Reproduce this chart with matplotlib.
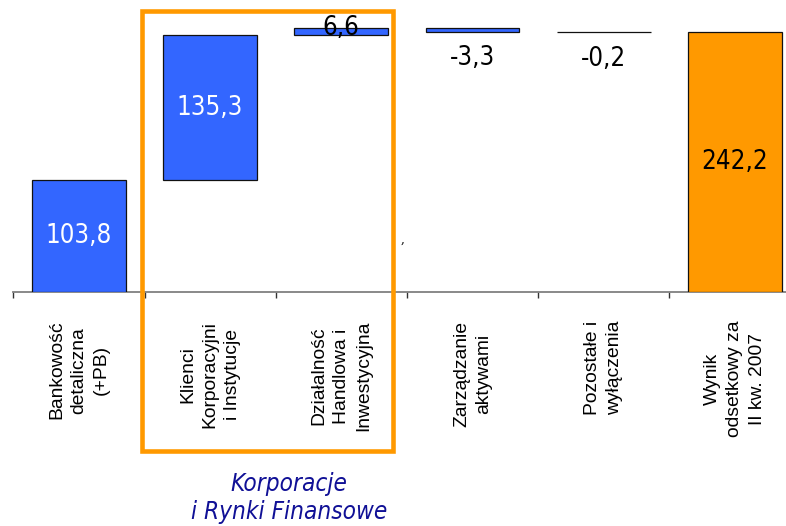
import matplotlib
matplotlib.use("Agg")
import matplotlib.pyplot as plt
from matplotlib.patches import Rectangle
import numpy as np

# Waterfall of net interest income by business segment
categories = [
    "Bankowość\ndetaliczna\n(+PB)",
    "Klienci\nKorporacyjni\ni Instytucje",
    "Działalność\nHandlowa i\nInwestycyjna",
    "Zarządzanie\naktywami",
    "Pozostałe i\nwyłączenia",
    "Wynik\nodsetkowy za\nII kw. 2007",
]
values = [103.8, 135.3, 6.6, -3.3, -0.2, 242.2]
is_total = [False, False, False, False, False, True]
value_labels = ["103,8", "135,3", "6,6", "-3,3", "-0,2", "242,2"]
group_title = "Korporacje\ni Rynki Finansowe"

BLUE = "#3366FF"
ORANGE = "#FF9900"
NAVY = "#101096"

W, H = 786, 526
fig = plt.figure(figsize=(W / 100, H / 100), dpi=100)

# axes geometry in pixels
ax_left, ax_bottom_px, cat_w, px_per_unit = 13.3, 291.7, 131.2, 1.073
ax = fig.add_axes([ax_left / W, (H - ax_bottom_px) / H,
                   cat_w * len(categories) / W, ax_bottom_px / H])
ax.set_xlim(-0.5, len(categories) - 0.5)
ax.set_ylim(0, ax_bottom_px / px_per_unit)

# compute bar bottoms / heights
bottoms, heights = [], []
running = 0.0
for v, tot in zip(values, is_total):
    if tot:
        bottoms.append(0.0)
        heights.append(v)
    else:
        bottoms.append(running)
        heights.append(v)
        running += v

x = np.arange(len(categories))
colors = [ORANGE if t else BLUE for t in is_total]
ax.bar(x, heights, bottom=bottoms, width=0.714, color=colors,
       edgecolor="#111111", linewidth=0.9, zorder=3)

val_font = dict(family="DejaVu Sans", stretch="condensed", size=18.5)

for i, (b, h, lab) in enumerate(zip(bottoms, heights, value_labels)):
    lo, hi = min(b, b + h), max(b, b + h)
    if abs(h) > 50:
        col = "white" if not is_total[i] else "black"
        ax.text(i, (lo + hi) / 2, lab, ha="center", va="center",
                color=col, zorder=5, **val_font)
    elif h > 0:
        ax.text(i, lo, lab, ha="center", va="baseline", color="black",
                zorder=5, **val_font)
    else:
        ax.annotate(lab, (i, lo), xytext=(0, -10), textcoords="offset points",
                    ha="center", va="top", color="black", zorder=5, **val_font)

# axes styling
for s in ["top", "right", "left"]:
    ax.spines[s].set_visible(False)
ax.spines["bottom"].set_color("#808080")
ax.spines["bottom"].set_linewidth(1.3)
ax.set_yticks([])

ax.set_xticks(np.arange(-0.5, len(categories), 1.0))
ax.set_xticklabels([])
ax.tick_params(axis="x", which="major", length=4, width=1.0, color="#333333",
               direction="out")
ax.set_xticks(x, minor=True)
ax.set_xticklabels(categories, minor=True, rotation=90, ha="center", va="top",
                   multialignment="center", family="Liberation Sans",
                   fontsize=13.9, linespacing=1.4)
ax.tick_params(axis="x", which="minor", length=0, pad=21)

# frame around the corporate segments
fig.patches.append(Rectangle((141.7 / W, (H - 451) / H), (393 - 141.7) / W,
                             (451 - 11.3) / H, transform=fig.transFigure,
                             fill=False, edgecolor=ORANGE, linewidth=3.3,
                             zorder=10))

fig.text(289 / W, (H - 498) / H, group_title, ha="center", va="center",
         color=NAVY, family="DejaVu Sans", stretch="condensed",
         style="italic", fontsize=17.5, linespacing=1.2)

fig.text(403 / W, (H - 239) / H, ",", ha="center", va="center",
         color="black", fontsize=9, family="DejaVu Serif")

fig.savefig("out.png", dpi=100)
